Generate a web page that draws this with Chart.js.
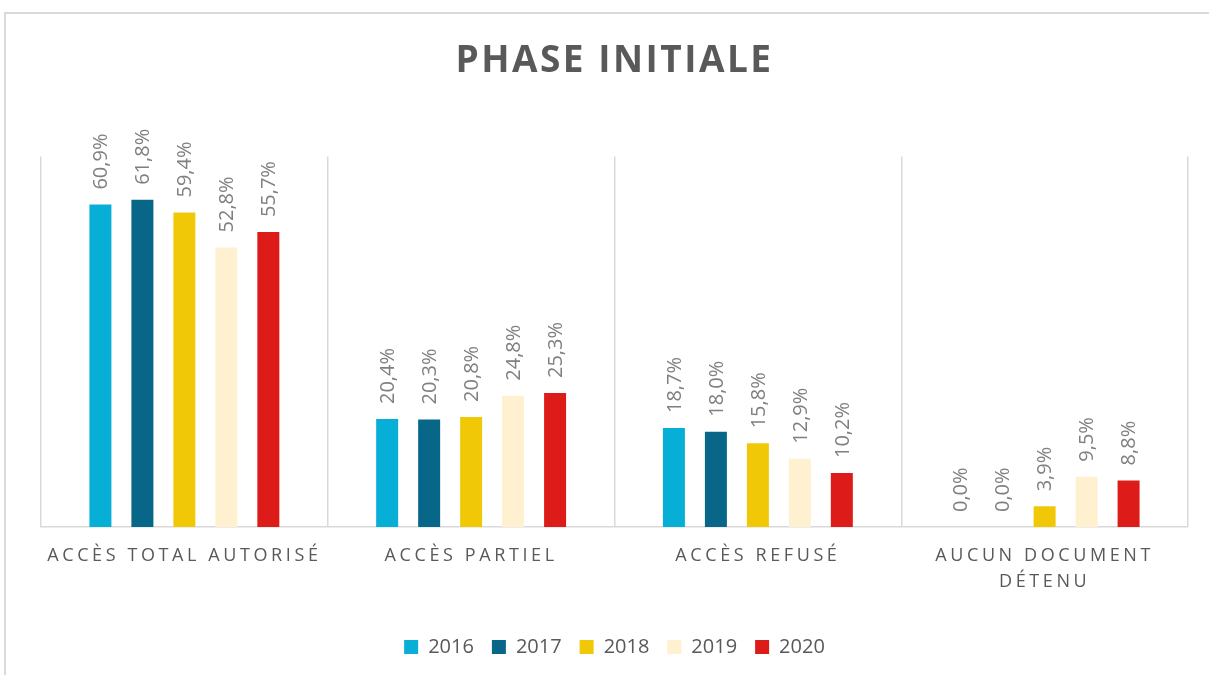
<!DOCTYPE html>
<html>
<head>
<meta charset="utf-8">
<script src="https://cdn.jsdelivr.net/npm/chart.js@4.4.1/dist/chart.umd.min.js"></script>
<style>
  body { margin: 0; background: #fff; }
  .frame { position: absolute; left: 4px; top: 12px; width: 1230px; height: 700px; border: 2px solid #d9d9d9; }
  canvas { position: absolute; left: 0; top: 0; }
</style>
</head>
<body>
<div class="frame"></div>
<canvas id="phaseChart" width="1209" height="675"></canvas>
<script>
const categories = ["ACCÈS TOTAL AUTORISÉ", "ACCÈS PARTIEL", "ACCÈS REFUSÉ", ["AUCUN DOCUMENT", "DÉTENU"]];
const years = ["2016", "2017", "2018", "2019", "2020"];
const values2016 = [60.9, 20.4, 18.7, 0.0];
const values2017 = [61.8, 20.3, 18.0, 0.0];
const values2018 = [59.4, 20.8, 15.8, 3.9];
const values2019 = [52.8, 24.8, 12.9, 9.5];
const values2020 = [55.7, 25.3, 10.2, 8.8];
const colors = ["#07aed5", "#086788", "#f0c808", "#fff1d0", "#dd1c1a"];

const series = [values2016, values2017, values2018, values2019, values2020];

// letter spacing for title and category labels
function spaced(obj, fn, spacing) {
  if (!obj || obj["_sp_" + fn]) return;
  const orig = obj[fn].bind(obj);
  obj[fn] = function () {
    const ctx = obj.ctx;
    ctx.save();
    ctx.letterSpacing = spacing;
    orig.apply(null, arguments);
    ctx.restore();
  };
  obj["_sp_" + fn] = true;
}

const letterSpacing = {
  id: "letterSpacing",
  afterUpdate(chart) {
    spaced(chart.scales.x, "drawLabels", "3.6px");
    spaced(chart.titleBlock, "draw", "2.5px");
  },
};

// value labels above bars, rotated
const valueLabels = {
  id: "valueLabels",
  afterDatasetsDraw(chart) {
    const ctx = chart.ctx;
    ctx.save();
    ctx.font = '20px "Open Sans"';
    ctx.fillStyle = "#808080";
    ctx.textAlign = "left";
    ctx.textBaseline = "middle";
    chart.data.datasets.forEach((ds, i) => {
      chart.getDatasetMeta(i).data.forEach((bar, j) => {
        ctx.save();
        ctx.translate(bar.x + 1, bar.y - 15);
        ctx.rotate(-Math.PI / 2);
        ctx.fillText(ds.data[j].toFixed(1).replace(".", ",") + "%", 0, 0);
        ctx.restore();
      });
    });
    ctx.restore();
  },
};

const ctx = document.getElementById("phaseChart").getContext("2d");
const phaseChart = new Chart(ctx, {
  type: "bar",
  data: {
    labels: categories,
    datasets: years.map((y, i) => ({
      label: y,
      data: series[i],
      backgroundColor: colors[i],
      categoryPercentage: 0.732,
      barPercentage: 0.524,
    })),
  },
  options: {
    responsive: false,
    animation: false,
    layout: { padding: { left: 41, right: 21, top: 0, bottom: 8 } },
    plugins: {
      title: {
        display: true,
        text: "PHASE INITIALE",
        color: "#595959",
        font: { family: "Open Sans", size: 37, weight: "bold" },
        padding: { top: 39, bottom: 73 },
      },
      legend: {
        position: "bottom",
        labels: {
          color: "#595959",
          font: { family: "Open Sans", size: 20 },
          boxWidth: 14,
          boxHeight: 14,
          padding: 18,
        },
      },
      tooltip: { enabled: false },
    },
    scales: {
      x: {
        grid: { display: true, offset: true, color: "#d9d9d9", lineWidth: 1.5, drawTicks: false },
        border: { color: "#d9d9d9", width: 1.5 },
        ticks: {
          color: "#595959",
          font: { family: "Open Sans", size: 18, lineHeight: 1.45 },
          padding: 16,
          autoSkip: false,
          maxRotation: 0,
        },
        afterFit(scale) {
          scale.height = 92;
        },
      },
      y: { display: false, min: 0, max: 70 },
    },
  },
  plugins: [letterSpacing, valueLabels],
});
</script>
</body>
</html>
